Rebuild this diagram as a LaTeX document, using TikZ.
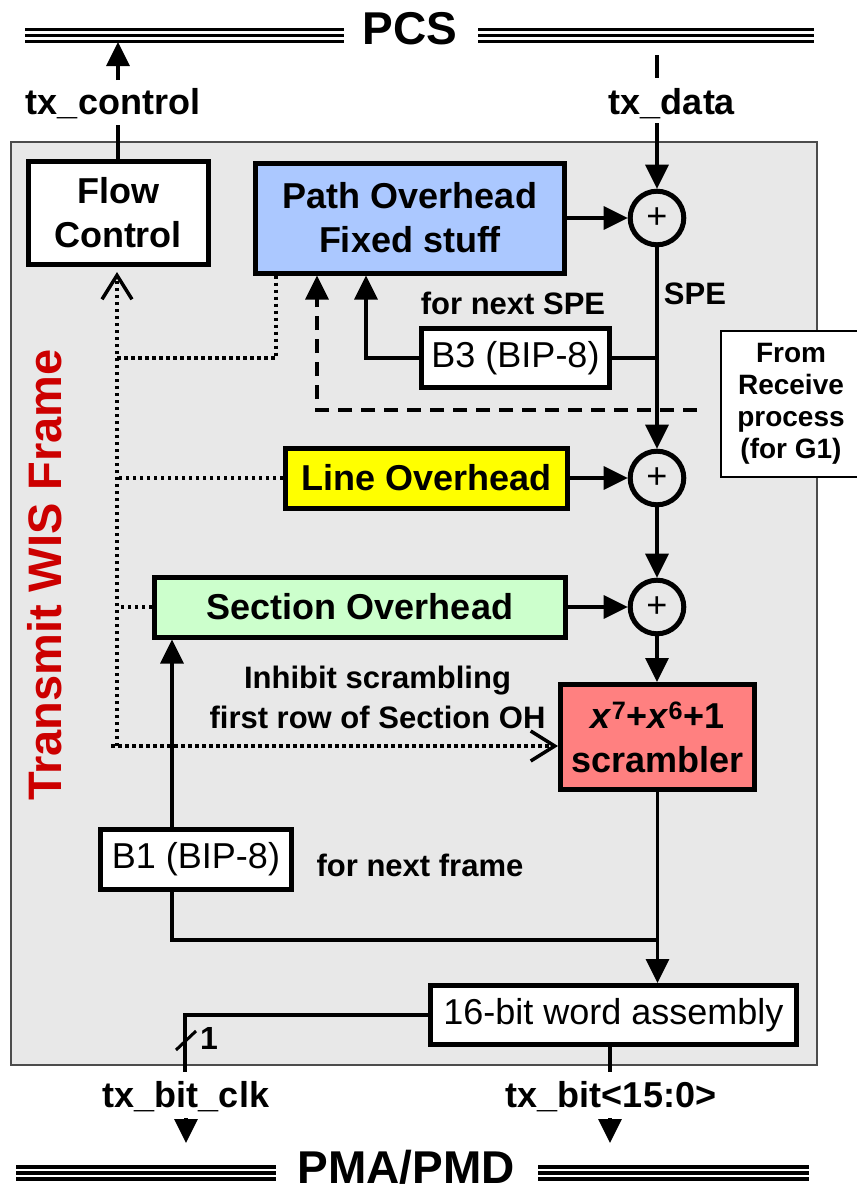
\documentclass[tikz,border=0pt]{standalone}
\usepackage{fontspec}
\setmainfont{Liberation Sans}
\usetikzlibrary{arrows.meta}
\definecolor{framegray}{HTML}{E8E8E8}
\definecolor{pathblue}{HTML}{ABC8FF}
\definecolor{lineyellow}{HTML}{FFFF00}
\definecolor{secgreen}{HTML}{CCFFCC}
\definecolor{scrred}{HTML}{FF8080}
\definecolor{wisred}{HTML}{CC0000}
\newcommand{\busline}[3]{% three parallel rails from x=#1 to x=#2 around y=#3
  \foreach \dy in {-6,0,6}{\draw[line width=3.2pt] (#1,#3+\dy) -- (#2,#3+\dy);}}
\begin{document}
\begin{tikzpicture}[x=1pt,y=-1pt,
  box/.style={draw=black, line width=5pt, inner sep=0pt, align=center,
    font=\bfseries\fontsize{36}{44}\selectfont},
  plainbox/.style={box, fill=white, font=\fontsize{36}{44}\selectfont},
  sum/.style={draw=black, circle, line width=5pt, minimum size=53.6pt, inner sep=0pt,
    font=\fontsize{36}{36}\selectfont},
  wire/.style={line width=3.5pt},
  arr/.style={wire, -{Triangle[length=24pt,width=23pt]}},
  dots/.style={line width=3.5pt, dash pattern=on 3.5pt off 3.5pt},
  barb/.style={-{Straight Barb[length=24pt,width=30pt,line width=3.5pt]}},
  dashwire/.style={line width=3.5pt, dash pattern=on 14pt off 9pt},
  lab/.style={font=\bfseries\fontsize{36}{40}\selectfont, inner sep=0pt},
  note/.style={font=\bfseries\fontsize{31}{40}\selectfont, inner sep=0pt, align=center},
  bus/.style={font=\bfseries\fontsize{46}{46}\selectfont, inner sep=0pt},
]
\useasboundingbox (0,0) rectangle (857,1192);

% layer rails
\busline{25}{344}{35.5}
\busline{478}{814}{35.5}
\node[bus] (pcs) at (410,29) {PCS};
\busline{16}{276}{1173}
\busline{538}{809}{1173}
\node[bus] (pma) at (406,1167) {PMA/PMD};

% transmit frame
\draw[fill=framegray, draw=black!70, line width=1.5pt] (11,142) rectangle (817,1065);
\node[rotate=90, text=wisred, font=\bfseries\fontsize{47}{47}\selectfont, inner sep=0pt]
  (title) at (44.5,575) {Transmit WIS Frame};

% blocks
\node[box, fill=white, minimum width=180pt, minimum height=103pt] (flow) at (118,213) {Flow\\Control};
\node[box, fill=pathblue, minimum width=309pt, minimum height=110pt] (path) at (410,218) {Path Overhead\\Fixed stuff};
\node[sum] (c1) at (657,218) {+};
\node[plainbox, minimum width=188pt, minimum height=59pt] (b3) at (515.5,358) {B3 (BIP-8)};
\node[draw=black, line width=1.5pt, fill=white, minimum width=140pt, minimum height=146pt,
  align=center, font=\bfseries\fontsize{28}{32}\selectfont, inner sep=0pt] (recv) at (791,404)
  {From\\Receive\\process\\(for G1)};
\node[box, fill=lineyellow, minimum width=282pt, minimum height=60pt] (line) at (426.5,478) {Line Overhead};
\node[sum] (c2) at (657,478) {+};
\node[box, fill=secgreen, minimum width=411pt, minimum height=60pt] (sec) at (360,607) {Section Overhead};
\node[sum] (c3) at (657,607) {+};
\node[box, fill=scrred, minimum width=194pt, minimum height=105pt] (scr) at (657.5,737)
  {\textit{x}\textsuperscript{7}+\textit{x}\textsuperscript{6}+1\\scrambler};
\node[plainbox, minimum width=191pt, minimum height=60pt] (b1) at (196,859.5) {B1 (BIP-8)};
\node[plainbox, minimum width=366pt, minimum height=59pt] (wa) at (613.5,1015) {16-bit word assembly};

% annotations
\node[lab] (txc) at (113,104) {tx\_control};
\node[lab] (txd) at (672,104) {tx\_data};
\node[note] (spe) at (695,294) {SPE};
\node[note] (nextspe) at (513,303) {for next SPE};
\node[note] (inhibit) at (377.5,697) {Inhibit scrambling\\first row of Section OH};
\node[note] (nextframe) at (420,865) {for next frame};
\node[lab] (txbc) at (186,1097) {tx\_bit\_clk};
\node[lab] (txb) at (611,1097) {tx\_bit<15:0>};
\node[font=\bfseries\fontsize{32}{32}\selectfont, inner sep=0pt] (one) at (209,1038) {1};

% named points
\coordinate (txcTap) at (118,42);
\coordinate (txcUp) at (118,80);
\coordinate (txcDn) at (118,125);
\coordinate (txdTap) at (657,55);
\coordinate (txdUp) at (657,78);
\coordinate (txdDn) at (657,123);
\coordinate (b3up) at (366,358);
\coordinate (g1) at (697,410);
\coordinate (g1up) at (317,410);
\coordinate (fcTap) at (276,358);
\coordinate (dotBot) at (117,746);
\coordinate (inh) at (111,746);
\coordinate (b1col) at (172,940);
\coordinate (merge) at (657.5,940);
\coordinate (clkEnd) at (185,1072);
\coordinate (clkA) at (186,1118);
\coordinate (clkB) at (186,1143);
\coordinate (bitEnd) at (610,1072);
\coordinate (bitA) at (610,1118);
\coordinate (bitB) at (610,1143);

% PCS interface
\draw[wire] (flow.north) -- (txcDn);
\draw[arr] (txcUp) -- (txcTap);
\draw[wire] (txdTap) -- (txdUp);
\draw[arr] (txdDn) -- (c1.north);

% data path
\draw[arr] (path.east) -- (c1.west);
\draw[arr] (c1.south) -- (c2.north);
\draw[wire] (b3.east) -- (b3.east -| c1.south);
\draw[arr] (b3.west) -| (path.south -| b3up);
\draw[dashwire, -{Triangle[length=24pt,width=23pt]}] (g1) -- (g1up) -- (path.south -| g1up);
\draw[arr] (line.east) -- (c2.west);
\draw[arr] (c2.south) -- (c3.north);
\draw[arr] (sec.east) -- (c3.west);
\draw[arr] (c3.south) -- (scr.north -| c3.south);
\draw[wire] (scr.south) -- (merge);
\draw[arr] (merge) -- (merge |- wa.north);
\draw[wire] (b1.south -| b1col) -- (b1col) -- (merge);
\draw[arr] (b1.north -| b1col) -- (sec.south -| b1col);

% flow control taps
\draw[dots] (path.south -| fcTap) -- (fcTap) -- (fcTap -| dotBot);
\draw[dots, barb, shorten >=5pt] (dotBot) -- (flow.south -| dotBot);
\draw[dots] (line.west) -- (line.west -| dotBot);
\draw[dots] (sec.west) -- (sec.west -| dotBot);
\draw[dots, barb] (inh) -- (inh -| scr.west);

% PMA interface
\draw[wire] (wa.west) -| (clkEnd);
\draw[line width=3pt] (176,1050) -- (196,1031);
\draw[arr] (clkA) -- (clkB);
\draw[wire] (wa.south -| bitEnd) -- (bitEnd);
\draw[arr] (bitA) -- (bitB);
\end{tikzpicture}
\end{document}
